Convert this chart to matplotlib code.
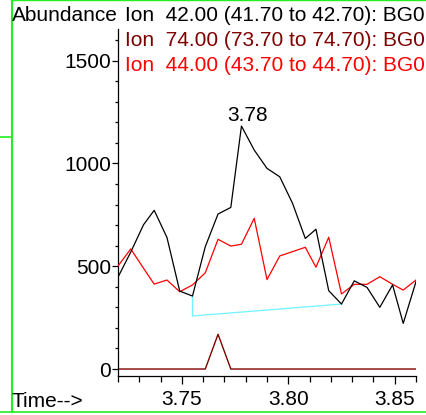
import matplotlib
matplotlib.use("Agg")
import matplotlib.pyplot as plt
from matplotlib.lines import Line2D
from matplotlib.ticker import MultipleLocator

# scan times (min)
times = [3.720, 3.726, 3.732, 3.737, 3.743, 3.749, 3.755, 3.761, 3.767, 3.773,
         3.778, 3.784, 3.790, 3.796, 3.802, 3.808, 3.813, 3.819, 3.825, 3.831,
         3.837, 3.843, 3.849, 3.854, 3.860]

# abundances
ion42 = [447, 569, 702, 772, 640, 379, 355, 595, 754, 786,
         1182, 1065, 976, 935, 806, 635, 680, 381, 316, 429,
         397, 300, 409, 222, 425]
ion74 = [0, 0, 0, 0, 0, 0, 0, 0, 169, 0,
         0, 0, 0, 0, 0, 0, 0, 0, 0, 0,
         0, 0, 0, 0, 0]
ion44 = [501, 584, 490, 413, 433, 376, 409, 468, 631, 598,
         607, 733, 435, 550, 571, 592, 495, 641, 365, 412,
         412, 449, 412, 384, 433]

# integration baseline of the 42 peak
base_t = [3.755, 3.755, 3.825]
base_y = [355, 258, 316]

labels = ["Ion  42.00 (41.70 to 42.70): BG01.D",
          "Ion  74.00 (73.70 to 74.70): BG01.D",
          "Ion  44.00 (43.70 to 44.70): BG01.D"]
colors = ["black", "#800000", "#ff0000"]

peak_t = 3.778
peak_label = "3.78"

W, H = 426, 415


def px(x, y):
    # pixel position -> figure fraction
    return x / W, 1 - y / H


def main():
    plt.rcParams["font.family"] = ["Liberation Sans", "DejaVu Sans"]
    fig = plt.figure(figsize=(W / 100, H / 100), dpi=100)
    l, b = 118 / W, 1 - 376 / H
    ax = fig.add_axes([l, b, 416 / W - l, (1 - 29 / H) - b])

    ax.plot(times, ion74, color=colors[1], lw=1.0, zorder=2)
    ax.plot(times, ion44, color=colors[2], lw=0.9, zorder=3)
    ax.plot(times, ion42, color=colors[0], lw=0.9, zorder=4)
    ax.plot(base_t, base_y, color="#70f4ff", lw=0.9, zorder=1)

    i = times.index(peak_t)
    ax.annotate(peak_label, (peak_t, ion42[i]), xytext=(6, 5), textcoords="offset pixels",
                ha="center", va="baseline", fontsize=15)

    ax.set_xlim(3.72, 3.86)
    ax.set_ylim(-34, 1654)
    for s in ["top", "right"]:
        ax.spines[s].set_visible(False)
    for s in ["left", "bottom"]:
        ax.spines[s].set_linewidth(0.9)

    ax.set_xticks([3.75, 3.80, 3.85])
    ax.set_xticklabels(["3.75", "3.80", "3.85"])
    ax.xaxis.set_minor_locator(MultipleLocator(0.01))
    ax.set_yticks([0, 500, 1000, 1500])
    ax.yaxis.set_minor_locator(MultipleLocator(100))
    ax.tick_params(axis="x", which="major", length=6, width=0.9, labelsize=15, pad=4)
    ax.tick_params(axis="x", which="minor", length=4, width=0.9)
    ax.tick_params(axis="y", which="major", length=4, width=0.9, labelsize=15, pad=1)
    ax.tick_params(axis="y", which="minor", length=2, width=0.9)

    fig.text(*px(12, 21), "Abundance", fontsize=15, va="baseline")
    for k, (txt, c) in enumerate(zip(labels, colors)):
        fig.text(*px(125, 21 + 25 * k), txt, color=c, fontsize=15, va="baseline")
    fig.text(*px(12, 407), "Time-->", fontsize=15, va="baseline")

    # window frame
    g = "#22ee22"
    fig.add_artist(Line2D([11.5 / W, 11.5 / W], [1, 1 - 412 / H], color=g, lw=1.5))
    fig.add_artist(Line2D([11 / W, 1], [1 - 0.5 / H, 1 - 0.5 / H], color=g, lw=1.0))
    fig.add_artist(Line2D([0, 11 / W], [1 - 137 / H, 1 - 137 / H], color=g, lw=1.2))
    fig.add_artist(Line2D([0, 1], [1 - 412 / H, 1 - 412 / H], color=g, lw=1.2))

    fig.savefig("out.png", dpi=100)


if __name__ == "__main__":
    main()
